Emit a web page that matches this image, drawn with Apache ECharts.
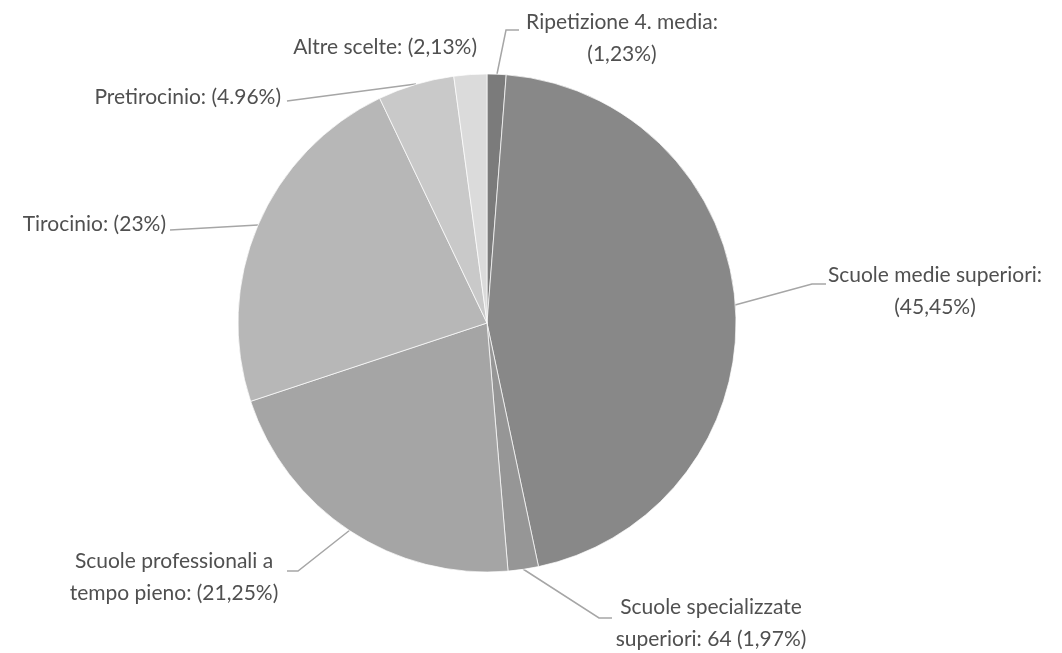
<!DOCTYPE html>
<html><head><meta charset="utf-8">
<script src="https://cdn.jsdelivr.net/npm/echarts@6/dist/echarts.min.js"></script>
<style>html,body{margin:0;padding:0;background:#fff}#c{width:1062px;height:653px}</style>
</head><body><div id="c"></div>
<script>
const categories = ["Ripetizione 4. media","Scuole medie superiori","Scuole specializzate superiori","Scuole professionali a tempo pieno","Tirocinio","Pretirocinio","Altre scelte"];
const values = [1.23, 45.45, 1.97, 21.25, 23, 4.96, 2.13];
const labelTexts = ["Ripetizione 4. media:\n(1,23%)","Scuole medie superiori:\n(45,45%)","Scuole specializzate\nsuperiori: 64 (1,97%)","Scuole professionali a\ntempo pieno: (21,25%)","Tirocinio: (23%)","Pretirocinio: (4.96%)","Altre scelte: (2,13%)"];
const colors = ["#7b7b7b","#888888","#969696","#a5a5a5","#b7b7b7","#c9c9c9","#dbdbdb"];

const labelPos = [
  {x:622,y:38,align:'center',pts:[[497,74],[506,30],[519,30]]},
  {x:935,y:291,align:'center',pts:[[735,305],[812,284],[826,284]]},
  {x:711,y:623,align:'center',pts:[[523,569],[599,618],[612,618]]},
  {x:174,y:577,align:'center',pts:[[350,530],[298,571],[287,571]]},
  {x:166,y:224,align:'right',pts:[[258,225],[170,230]]},
  {x:281,y:97,align:'right',pts:[[416,84],[287,101]]},
  {x:477,y:47,align:'right',pts:null}
];

const chart = echarts.init(document.getElementById('c'));
chart.setOption({
  animation:false,
  series:[{
    type:'pie',
    center:[487,323],
    radius:249,
    startAngle:90,
    clockwise:true,
    data: categories.map((n,i)=>({name:n,value:values[i],itemStyle:{color:colors[i]},
      labelLine:{show: labelPos[i].pts!==null}})),
    itemStyle:{borderColor:'#ffffff',borderWidth:0.7},
    label:{show:true,formatter:p=>labelTexts[p.dataIndex],color:'#505050',fontFamily:'Lato',fontSize:21,lineHeight:32},
    labelLine:{show:true,lineStyle:{color:'#a6a6a6',width:1.5}},
    labelLayout: function(p){
      const L = labelPos[p.dataIndex];
      const o = {x:L.x,y:L.y,align:L.align,verticalAlign:'middle'};
      if(L.pts) o.labelLinePoints = L.pts;
      return o;
    },
    emphasis:{disabled:true}
  }]
});
</script></body></html>
